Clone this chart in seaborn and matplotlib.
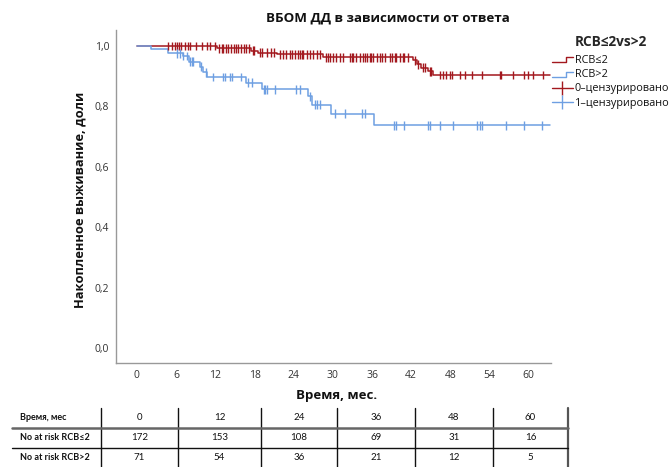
import numpy as np
import pandas as pd
import matplotlib
matplotlib.use("Agg")
import matplotlib.pyplot as plt
from matplotlib.lines import Line2D
from matplotlib.legend_handler import HandlerBase
from matplotlib.ticker import FuncFormatter, FixedLocator
import seaborn as sns

# Kaplan–Meier curves: step times (months) and survival after each step
rcb_low_time = [0, 12.2, 17.5, 18.5, 21.4, 28.5, 42.3, 42.9, 43.5, 44.5, 45.3]
rcb_low_surv = [1.0, 0.993, 0.985, 0.978, 0.972, 0.963, 0.952, 0.940, 0.928, 0.916, 0.904]
rcb_high_time = [0, 2.1, 4.8, 7.0, 8.0, 9.6, 10.1, 10.7, 16.7, 19.1, 26.2, 26.8, 29.7, 36.3]
rcb_high_surv = [1.0, 0.990, 0.976, 0.967, 0.948, 0.931, 0.913, 0.897, 0.879, 0.856,
                 0.833, 0.805, 0.776, 0.737]
follow_up_end = 63.3

# Censored observations (months)
rcb_low_censored = [4.8, 5.3, 5.8, 6.2, 6.5, 6.8, 7.4, 7.8, 8.2, 9.1, 9.9, 10.8, 11.2, 11.9,
                    12.5, 13.0, 13.2, 13.6, 14.0, 14.4, 14.8, 15.2, 15.5, 16.0, 16.4, 16.7,
                    17.1, 17.8, 18.0, 18.8, 19.1, 19.9, 20.6, 21.0, 21.9, 22.4, 22.9, 23.4,
                    23.7, 24.2, 24.7, 25.0, 25.3, 25.5, 26.0, 26.5, 27.0, 27.5, 28.0, 29.0,
                    29.3, 29.5, 30.0, 30.5, 31.1, 31.6, 32.6, 32.9, 33.1, 33.6, 34.1, 34.6,
                    34.9, 35.2, 35.7, 35.9, 36.2, 36.7, 37.2, 37.5, 38.0, 38.7, 39.1, 39.5,
                    39.7, 40.3, 40.7, 40.9, 41.5, 42.6, 43.1, 43.8, 44.1, 44.8, 45.1, 46.4,
                    46.9, 47.4, 47.9, 48.3, 49.5, 50.2, 51.3, 52.8, 55.6, 55.8, 57.6, 59.2,
                    59.9, 60.7, 62.2]
rcb_high_censored = [6.1, 6.6, 7.1, 7.6, 8.1, 8.4, 8.6, 9.8, 10.6, 11.7, 13.2, 13.5, 14.2,
                     14.5, 16.0, 17.0, 17.6, 19.4, 19.6, 19.9, 21.1, 24.4, 24.9, 26.5, 27.3,
                     27.5, 28.0, 30.3, 31.9, 34.4, 34.9, 39.3, 39.7, 40.9, 44.6, 44.9, 46.4,
                     48.4, 52.0, 52.5, 52.9, 56.5, 59.2, 62.0]

# Numbers at risk
table_times = [0, 12, 24, 36, 48, 60]
at_risk_low = [172, 153, 108, 69, 31, 16]
at_risk_high = [71, 54, 36, 21, 12, 5]

group_names = ["RCB≤2", "RCB>2"]
censor_names = ["0–цензурировано", "1–цензурировано"]
red = "#A3181E"
blue = "#6E9FE2"
palette = {group_names[0]: red, group_names[1]: blue}

sns.set_theme(style="white")
plt.rcParams["font.family"] = ["Open Sans", "DejaVu Sans"]

W, H = 671, 467
fig = plt.figure(figsize=(W / 100, H / 100), dpi=100)
ax = fig.add_axes([116 / W, 1 - 363 / H, (551 - 116) / W, (363 - 30) / H])


def step_frame(times, surv, name):
    t = list(times) + [follow_up_end]
    s = list(surv) + [surv[-1]]
    return pd.DataFrame({"time": t, "surv": s, "group": name})


def censor_frame(cens, times, surv, name):
    idx = np.searchsorted(np.asarray(times), np.asarray(cens), side="right") - 1
    return pd.DataFrame({"time": cens, "surv": np.asarray(surv)[idx], "group": name})


curves = pd.concat([step_frame(rcb_low_time, rcb_low_surv, group_names[0]),
                    step_frame(rcb_high_time, rcb_high_surv, group_names[1])])
marks = pd.concat([censor_frame(rcb_low_censored, rcb_low_time, rcb_low_surv, group_names[0]),
                   censor_frame(rcb_high_censored, rcb_high_time, rcb_high_surv, group_names[1])])

sns.lineplot(data=curves, x="time", y="surv", hue="group", palette=palette,
             drawstyle="steps-post", estimator=None, sort=False, linewidth=1.1,
             legend=False, ax=ax)
sns.scatterplot(data=marks, x="time", y="surv", hue="group", palette=palette,
                marker="|", s=40, linewidth=1.0, legend=False, ax=ax, zorder=3)

ax.set_xlim(-3.2, 63.4)
ax.set_ylim(-0.05, 1.053)
ax.xaxis.set_major_locator(FixedLocator(list(range(0, 61, 6))))
ax.yaxis.set_major_locator(FixedLocator([0, 0.2, 0.4, 0.6, 0.8, 1.0]))
ax.yaxis.set_major_formatter(FuncFormatter(lambda v, p: f"{v:.1f}".replace(".", ",")))
ax.tick_params(length=0, labelsize=7.5, labelcolor="#333333", pad=5)
for side in ("top", "right"):
    ax.spines[side].set_visible(False)
for side in ("left", "bottom"):
    ax.spines[side].set_color("#999999")
    ax.spines[side].set_linewidth(1.0)
ax.set_xlabel("")
ax.set_ylabel("")
ax.grid(False)

fig.text(388 / W, 1 - 18 / H, "ВБОМ ДД в зависимости от ответа", ha="center", va="center",
         fontsize=9.6, fontweight="bold", color="#111111")
fig.text(80 / W, 1 - 200 / H, "Накопленное выживание, доли", ha="center", va="center",
         rotation=90, fontsize=9.3, fontweight="bold", color="#111111")
fig.text(337 / W, 1 - 396 / H, "Время, мес.", ha="center", va="center",
         fontsize=9.5, fontweight="bold", color="#111111")


class StepHandler(HandlerBase):
    def create_artists(self, legend, orig_handle, xdescent, ydescent, width, height,
                       fontsize, trans):
        x0 = -xdescent
        lo = -ydescent + height * 0.05
        hi = -ydescent + height * 0.7
        xs = [x0, x0 + width * 0.7, x0 + width * 0.7, x0 + width]
        ys = [lo, lo, hi, hi]
        ln = Line2D(xs, ys, color=orig_handle.get_color(), lw=1.0, transform=trans)
        return [ln]


h_low = Line2D([], [], color=red, lw=1.0)
h_high = Line2D([], [], color=blue, lw=1.0)
h_c0 = Line2D([], [], color=red, lw=1.0, marker="|", markersize=10, markeredgewidth=1.0)
h_c1 = Line2D([], [], color=blue, lw=1.0, marker="|", markersize=10, markeredgewidth=1.0)
leg = fig.legend([h_low, h_high, h_c0, h_c1], group_names + censor_names,
                 title="RCB≤2vs>2", loc="upper left", bbox_to_anchor=(552 / W, 1 - 35 / H),
                 frameon=False, fontsize=7.8, handlelength=1.9, handletextpad=0.2,
                 labelspacing=0.32, borderaxespad=0, borderpad=0,
                 handler_map={h_low: StepHandler(), h_high: StepHandler()},
                 title_fontproperties={"weight": "bold", "size": 9.8})
leg._legend_box.sep = 4
for t in leg.get_texts():
    t.set_color("#111111")

# Numbers-at-risk table below the axis
col_edges = [101, 178, 261, 337, 415, 493, 568]
row_y = [418, 438, 458]
row_labels = ["Время, мес", "No at risk RCB≤2", "No at risk RCB>2"]
rows = [table_times, at_risk_low, at_risk_high]
tf = fig.transFigure
for ry, lab, vals in zip(row_y, row_labels, rows):
    fig.text(20 / W, 1 - ry / H, lab, ha="left", va="center", fontsize=6.5,
             fontweight="bold", family=["Lato", "DejaVu Sans"], color="#111111")
    for i, v in enumerate(vals):
        cx = (col_edges[i] + col_edges[i + 1]) / 2
        fig.text(cx / W, 1 - ry / H, str(v), ha="center", va="center", fontsize=7,
                 family=["Lato", "DejaVu Sans"], color="#111111")
for i, xe in enumerate(col_edges):
    last = i == len(col_edges) - 1
    fig.add_artist(Line2D([xe / W, xe / W], [1 - 408 / H, 0], transform=tf,
                          color="#555555" if last else "#111111", lw=1.6 if last else 1.0))
fig.add_artist(Line2D([12 / W, 568 / W], [1 - 428 / H, 1 - 428 / H], transform=tf,
                      color="#666666", lw=1.8))
fig.add_artist(Line2D([12 / W, 568 / W], [1 - 448 / H, 1 - 448 / H], transform=tf,
                      color="#111111", lw=1.0))

fig.savefig("out.png", dpi=100, facecolor="white")
